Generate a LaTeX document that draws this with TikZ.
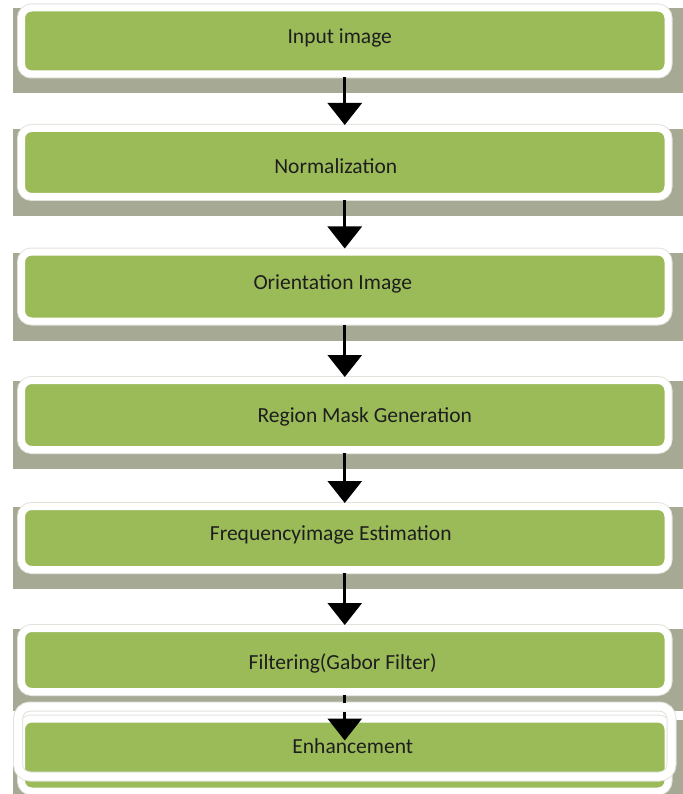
\documentclass[tikz,border=0pt]{standalone}
\usepackage{fontspec}
\setmainfont{Carlito}
\usetikzlibrary{arrows.meta,calc}
\pgfdeclarelayer{background}
\pgfsetlayers{background,main}

\definecolor{stepgreen}{HTML}{9BBB59}
\definecolor{shadowgray}{HTML}{A6AA94}
\definecolor{rimgray}{HTML}{E2E4DC}
\definecolor{inkdark}{HTML}{1E1E1E}

\tikzset{
  stepbox/.style={rectangle, rounded corners=10pt, fill=stepgreen,
    draw=white, line width=7pt, minimum width=646.5pt,
    preaction={draw=rimgray, line width=9pt}},
  steplabel/.style={font=\fontsize{21.5}{26}\selectfont, text=inkdark,
    inner sep=0pt},
  flow/.style={line width=3pt, draw=black,
    -{Triangle[length=22pt,width=34pt]}},
  frame/.style={draw=white, line width=8pt, rounded corners=12pt,
    preaction={draw=rimgray, line width=10pt}},
}

\begin{document}
\begin{tikzpicture}[x=1pt,y=-1pt]
  \useasboundingbox (0,0) rectangle (682,794);

  % processing steps
  \node[stepbox, minimum height=66pt] (b1) at (344.75,41)    {};
  \node[stepbox, minimum height=68pt] (b2) at (344.75,162.5) {};
  \node[stepbox, minimum height=69pt] (b3) at (344.75,286.5) {};
  \node[stepbox, minimum height=69pt] (b4) at (344.75,415)   {};
  \node[stepbox, minimum height=63pt] (b5) at (344.75,538)   {};
  \node[stepbox, minimum height=63pt] (b6) at (344.75,660)   {};
  \node[stepbox, minimum height=72pt] (b7) at (344.75,755)   {};

  % drop shadows behind every step
  \begin{pgfonlayer}{background}
    \fill[white] (0,0) rectangle (682,794);
    \foreach \b in {b1,b2,b3,b4,b5,b6,b7}
      \fill[shadowgray] ($(\b.north west)+(-5,4)$)
        rectangle ($(\b.south east)+(14,16)$);
  \end{pgfonlayer}

  % outline frame over the last step
  \draw[frame] ($(b7.north west)+(0,-9)$) rectangle ($(b7.south east)+(0,-18)$);

  % step captions
  \node[steplabel] (t1) at ($(b1.center)+(-5,-3)$)  {Input image};
  \node[steplabel] (t2) at ($(b2.center)+(-9,4)$)   {Normalization};
  \node[steplabel] (t3) at ($(b3.center)+(-12,-3)$) {Orientation Image};
  \node[steplabel] (t4) at ($(b4.center)+(20,2)$)   {Region Mask Generation};
  \node[steplabel] (t5) at ($(b5.center)+(-14,-3)$) {Frequencyimage Estimation};
  \node[steplabel] (t6) at ($(b6.center)+(-2,3)$)   {Filtering(Gabor Filter)};
  \node[steplabel] (t7) at ($(b7.center)+(8,-9)$)   {Enhancement};

  % flow arrows
  \draw[flow] (b1.south) -- (b2.north);
  \draw[flow] (b2.south) -- (b3.north);
  \draw[flow] (b3.south) -- (b4.north);
  \draw[flow] (b4.south) -- (b5.north);
  \draw[flow] (b5.south) -- (b6.north);
  \coordinate (tip7) at ($(b7.north)+(0,25)$);
  \draw[flow, dash pattern=on 8pt off 9pt] (b6.south) -- (tip7);
\end{tikzpicture}
\end{document}
